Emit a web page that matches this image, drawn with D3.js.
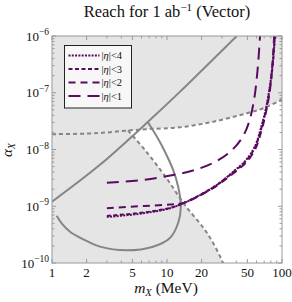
<!DOCTYPE html>
<html lang="en">
<head>
    <meta charset="UTF-8">
    <script src="https://cdn.jsdelivr.net/npm/d3@7"></script>
    <title>Reach for 1 ab-1 (Vector)</title>
    <style>
        body { margin: 0; background: white; }
        text { font-family: "Liberation Serif", "Times New Roman", serif; fill: #111; }
    </style>
</head>
<body>
    <div id="chart"></div>
    <script>
        // [mass in MeV, log10(alpha)]
        const upperDashed = [[1, -7.73], [2, -7.72], [3, -7.70], [4.58, -7.665], [7, -7.64], [13, -7.609], [25.3, -7.51], [49.3, -7.362], [68.8, -7.274], [100, -7.12]];
        const lowerDashed = [[4.58, -7.665], [6.43, -8.009], [9.6, -8.467], [14.3, -8.978], [22.3, -9.471], [30.7, -10.0]];
        const diagonalSolid = [[1, -8.92], [2.61, -8.27], [6.8, -7.515], [13, -6.98], [40.4, -6.0]];
        const closedSolid = [[1.099, -9.167], [1.214, -9.30], [1.434, -9.448], [1.872, -9.582], [2.61, -9.712], [4.46, -9.776],
            [7.56, -9.713], [10.6, -9.56], [12.5, -9.295], [13.2, -9.0], [12.5, -8.656], [11.3, -8.36], [9.6, -8.04], [8.2, -7.78], [6.8, -7.515]];

        const eta4 = [[3, -9.19], [6.23, -9.124], [10.6, -9.036], [13.9, -8.948], [19.4, -8.802], [27.0, -8.626], [37.7, -8.391],
            [48.7, -8.185], [58.3, -7.938], [65.6, -7.621], [72.6, -7.269], [78.7, -6.863], [83.5, -6.423], [86.9, -6.0]];
        const eta3 = [[3, -9.17], [6.23, -9.11], [10.6, -9.03], [13.9, -8.945], [19.4, -8.80], [27.0, -8.63], [37.7, -8.40],
            [48.7, -8.20], [58.3, -7.96], [65.6, -7.65], [72.6, -7.30], [78.7, -6.90], [83.5, -6.46], [86.5, -6.0]];
        const eta2 = [[3, -9.036], [6.23, -8.996], [10.6, -8.97], [13.9, -8.94], [19.4, -8.81], [27.0, -8.64], [37.7, -8.42],
            [48.7, -8.23], [58.3, -8.0], [65.6, -7.70], [72.6, -7.34], [78.7, -6.94], [82.5, -6.5], [85.5, -6.0]];
        const eta1 = [[3, -8.584], [6.23, -8.537], [11.3, -8.449], [17.5, -8.361], [26.1, -8.22], [35.3, -8.044], [44.9, -7.797],
            [51.7, -7.515], [57.1, -7.128], [61.3, -6.599], [64.4, -6.0]];

        const series = [
            { label: "4", data: eta4, dash: "2,1.3" },
            { label: "3", data: eta3, dash: "4,2.5" },
            { label: "2", data: eta2, dash: "7,5" },
            { label: "1", data: eta1, dash: "12,7" }
        ];

        const xMajor = [1, 2, 5, 10, 20, 50, 100];
        const xMinor = [3, 4, 6, 7, 8, 9, 30, 40, 60, 70, 80, 90];
        const yDecades = [-10, -9, -8, -7, -6];

        const width = 292, height = 302;
        const plotL = 52, plotR = 282, plotT = 36, plotB = 263;
        const purple = "#5a0b5f";
        const gray = "#858585";

        const x = d3.scaleLog().domain([1, 100]).range([plotL, plotR]);
        const y = d3.scaleLog().domain([1e-10, 1e-6]).range([plotB, plotT]);

        const px = d => x(d[0]);
        const py = d => y(Math.pow(10, d[1]));

        const svg = d3.select("#chart").append("svg")
            .attr("width", width)
            .attr("height", height);

        svg.append("clipPath").attr("id", "clip")
            .append("rect")
            .attr("x", plotL).attr("y", plotT)
            .attr("width", plotR - plotL).attr("height", plotB - plotT);

        const plot = svg.append("g").attr("clip-path", "url(#clip)");

        // excluded region gray, allowed region white
        plot.append("rect")
            .attr("x", plotL).attr("y", plotT)
            .attr("width", plotR - plotL).attr("height", plotB - plotT)
            .attr("fill", "#e5e5e5");

        const whiteRegion = upperDashed.filter(d => d[0] >= lowerDashed[0][0])
            .concat([[100, -10], [lowerDashed[lowerDashed.length - 1][0], -10]])
            .concat(lowerDashed.slice().reverse());
        plot.append("path")
            .attr("d", d3.line().x(px).y(py).curve(d3.curveLinear)(whiteRegion) + "Z")
            .attr("fill", "white");

        const line = d3.line().x(px).y(py).curve(d3.curveCatmullRom.alpha(0.5));

        plot.append("path").attr("d", line(upperDashed))
            .attr("fill", "none").attr("stroke", gray).attr("stroke-width", 2).attr("stroke-dasharray", "4,3");
        plot.append("path").attr("d", line(lowerDashed.concat([[33, -10.2]])))
            .attr("fill", "none").attr("stroke", gray).attr("stroke-width", 2).attr("stroke-dasharray", "4,3");
        plot.append("path").attr("d", line(diagonalSolid))
            .attr("fill", "none").attr("stroke", gray).attr("stroke-width", 2);
        plot.append("path").attr("d", line(closedSolid))
            .attr("fill", "none").attr("stroke", gray).attr("stroke-width", 2);

        series.forEach(s => {
            plot.append("path").attr("d", line(s.data))
                .attr("fill", "none")
                .attr("stroke", purple)
                .attr("stroke-width", 2)
                .attr("stroke-dasharray", s.dash);
        });

        // frame and ticks
        svg.append("rect")
            .attr("x", plotL).attr("y", plotT)
            .attr("width", plotR - plotL).attr("height", plotB - plotT)
            .attr("fill", "none").attr("stroke", "#9a9a9a").attr("stroke-width", 1);

        const tickG = svg.append("g").attr("stroke", "#9a9a9a").attr("stroke-width", 1);
        xMajor.concat(xMinor).forEach(v => {
            const len = xMajor.includes(v) ? 4 : 2.5;
            tickG.append("line").attr("x1", x(v)).attr("x2", x(v)).attr("y1", plotB).attr("y2", plotB - len);
            tickG.append("line").attr("x1", x(v)).attr("x2", x(v)).attr("y1", plotT).attr("y2", plotT + len);
        });
        yDecades.forEach(e => {
            for (let k = 1; k <= 9; k++) {
                if (e === -6 && k > 1) break;
                const v = k * Math.pow(10, e);
                const len = k === 1 ? 4 : 2.5;
                tickG.append("line").attr("y1", y(v)).attr("y2", y(v)).attr("x1", plotL).attr("x2", plotL + len);
                tickG.append("line").attr("y1", y(v)).attr("y2", y(v)).attr("x1", plotR).attr("x2", plotR - len);
            }
        });

        svg.selectAll(".xlab").data(xMajor).enter().append("text")
            .attr("x", d => x(d)).attr("y", 276.5)
            .attr("text-anchor", "middle")
            .attr("font-size", 13)
            .text(d => d);

        yDecades.forEach(e => {
            const t = svg.append("text")
                .attr("x", 49).attr("y", y(Math.pow(10, e)) + 4.5)
                .attr("text-anchor", "end")
                .attr("font-size", 13);
            t.append("tspan").text("10");
            t.append("tspan").attr("dy", -5.5).attr("font-size", 9.5).text("\u2212" + (-e));
        });

        // title
        const title = svg.append("text").attr("x", 167).attr("y", 17)
            .attr("text-anchor", "middle").attr("font-size", 16.5);
        title.append("tspan").text("Reach for 1 ab");
        title.append("tspan").attr("dy", -6.5).attr("font-size", 11).text("\u22121");
        title.append("tspan").attr("dy", 6.5).text(" (Vector)");

        // axis labels
        const xl = svg.append("text").attr("x", 166).attr("y", 293)
            .attr("text-anchor", "middle").attr("font-size", 15.5);
        xl.append("tspan").attr("font-style", "italic").text("m");
        xl.append("tspan").attr("font-style", "italic").attr("font-size", 10.5).attr("dy", 3).text("X");
        xl.append("tspan").attr("dy", -3).text(" (MeV)");

        const yl = svg.append("text")
            .attr("transform", "translate(12,150) rotate(-90)")
            .attr("text-anchor", "middle").attr("font-size", 15);
        yl.append("tspan").attr("font-style", "italic").text("\u03b1");
        yl.append("tspan").attr("font-style", "italic").attr("font-size", 10).attr("dy", 3).text("X");

        // legend
        const lg = svg.append("g");
        lg.append("rect")
            .attr("x", 64.5).attr("y", 45.5).attr("width", 67).attr("height", 62.5)
            .attr("fill", "#f7f7f7").attr("stroke", "#222").attr("stroke-width", 1);
        series.forEach((s, i) => {
            const ly = 55.5 + i * 13.5;
            lg.append("line").attr("x1", 68.5).attr("x2", 99.5).attr("y1", ly).attr("y2", ly)
                .attr("stroke", purple).attr("stroke-width", 2).attr("stroke-dasharray", s.dash);
            const t = lg.append("text").attr("x", 101.5).attr("y", ly + 3.5).attr("font-size", 10.5);
            t.append("tspan").text("|");
            t.append("tspan").attr("font-style", "italic").text("\u03b7");
            t.append("tspan").text("|<" + s.label);
        });
    </script>
</body>
</html>
